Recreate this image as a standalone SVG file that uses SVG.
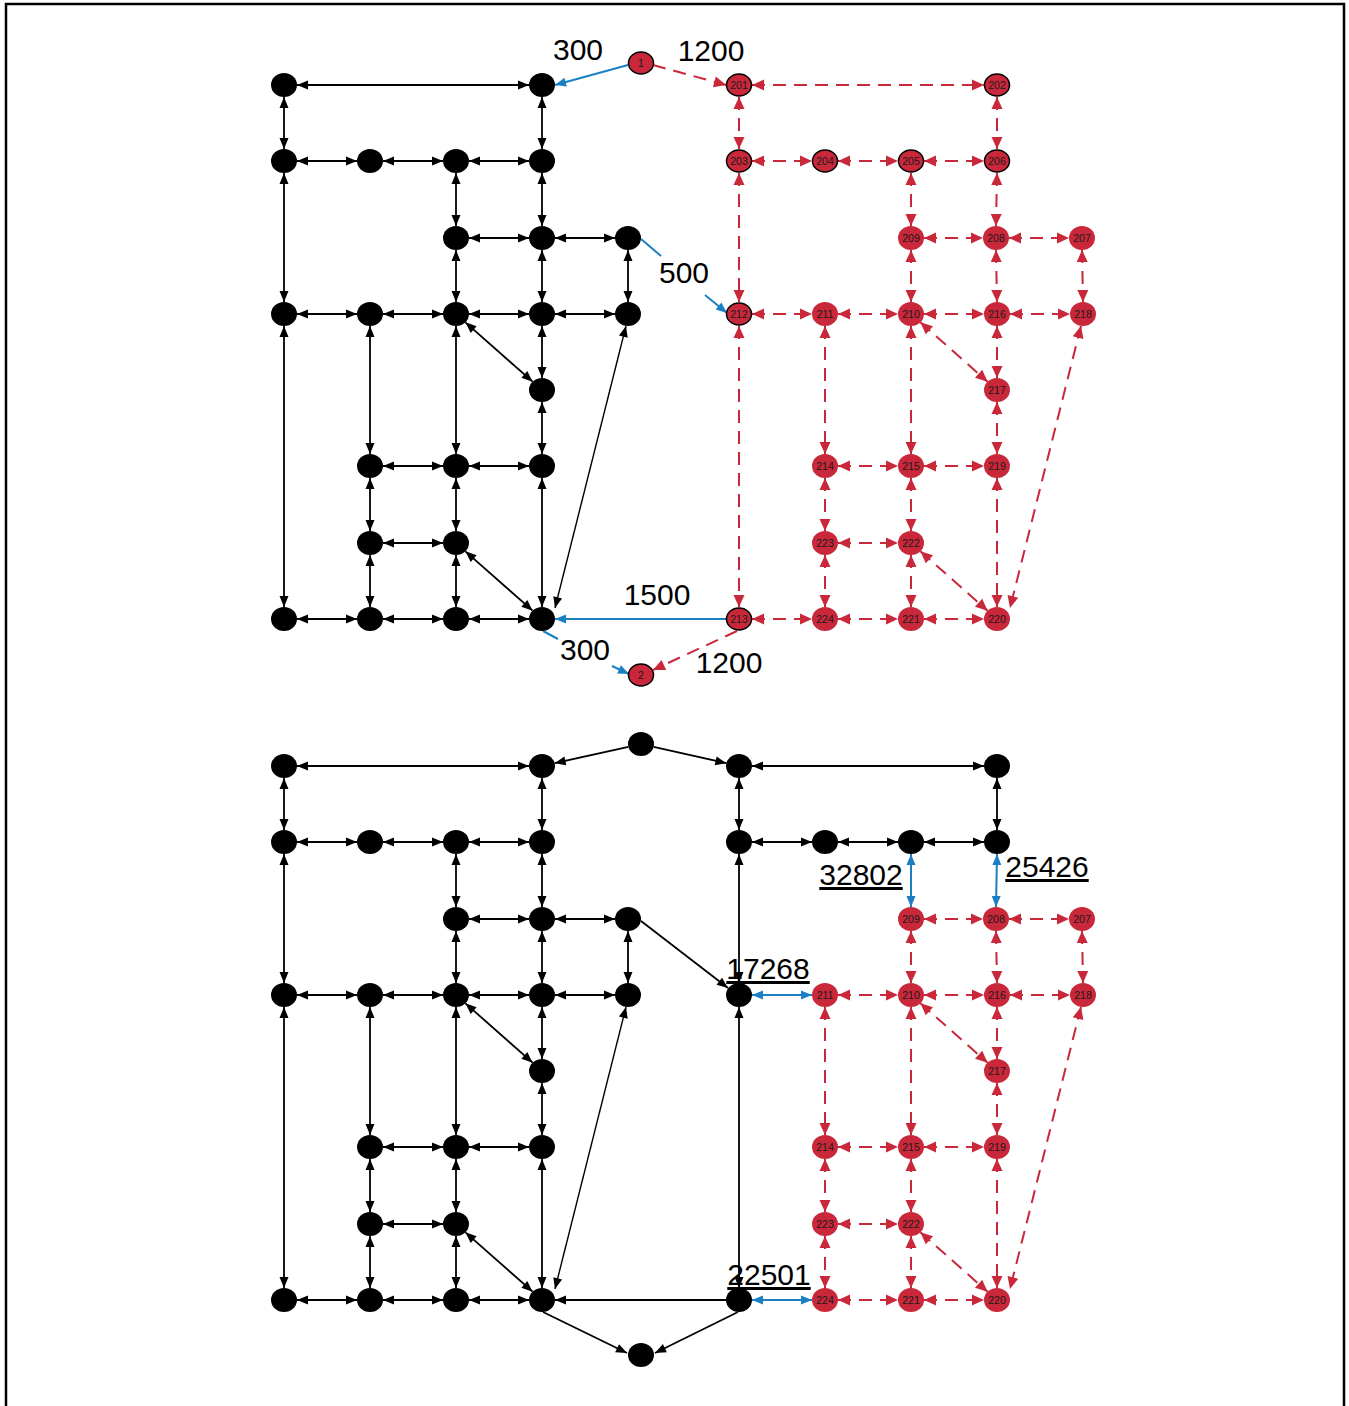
<svg xmlns="http://www.w3.org/2000/svg" width="1349" height="1406" viewBox="0 0 1349 1406">
<defs>
<style>
.k{stroke:#000;stroke-width:1.8;fill:none;marker-start:url(#mk);marker-end:url(#mk)}
.k1{stroke:#000;stroke-width:1.8;fill:none;marker-end:url(#mk)}
.kt{stroke:#000;stroke-width:1.4;fill:none;marker-start:url(#mk);marker-end:url(#mk)}
.r{stroke:#c8283a;stroke-width:2;stroke-dasharray:13 8;fill:none;marker-start:url(#mr);marker-end:url(#mr)}
.r1{stroke:#c8283a;stroke-width:2;stroke-dasharray:13 8;fill:none;marker-end:url(#mr)}
.b{stroke:#1b7fc4;stroke-width:2;fill:none;marker-start:url(#mb);marker-end:url(#mb)}
.b1{stroke:#1b7fc4;stroke-width:2;fill:none;marker-end:url(#mb)}
.nk{fill:#000}
.nr{fill:#c8283a}
.ns{fill:#c8283a;stroke:#000;stroke-width:1.5}
.nt{font-family:"Liberation Sans",Arial,sans-serif;font-size:10.5px;fill:#1a1a1a;text-anchor:middle}
.lb{font-family:"Liberation Sans",Arial,sans-serif;font-size:30px;fill:#000;text-anchor:middle}
.lu{font-family:"Liberation Sans",Arial,sans-serif;font-size:30px;fill:#000;text-anchor:middle;text-decoration:underline}
</style>
<marker id="mk" markerUnits="userSpaceOnUse" markerWidth="11" markerHeight="9" refX="11" refY="4.5" orient="auto-start-reverse" overflow="visible"><path d="M0,0 L11,4.5 L0,9 Z" fill="#000"/></marker>
<marker id="mr" markerUnits="userSpaceOnUse" markerWidth="12" markerHeight="11" refX="12" refY="5.5" orient="auto-start-reverse" overflow="visible"><path d="M0,0 L12,5.5 L0,11 Z" fill="#c8283a"/></marker>
<marker id="mb" markerUnits="userSpaceOnUse" markerWidth="11" markerHeight="9" refX="11" refY="4.5" orient="auto-start-reverse" overflow="visible"><path d="M0,0 L11,4.5 L0,9 Z" fill="#1b7fc4"/></marker>
</defs>
<rect x="0" y="0" width="1349" height="1406" fill="#fff"/>
<rect x="6" y="4" width="1338" height="1420" fill="none" stroke="#000" stroke-width="2.5"/>

<g id="connectors">
<g class="blk-top">
<line class="k" x1="297" y1="85" x2="529" y2="85"/>
<line class="k" x1="297" y1="161" x2="357" y2="161"/>
<line class="k" x1="383" y1="161" x2="443" y2="161"/>
<line class="k" x1="469" y1="161" x2="529" y2="161"/>
<line class="k" x1="469" y1="238" x2="529" y2="238"/>
<line class="k" x1="555" y1="238" x2="615" y2="238"/>
<line class="k" x1="297" y1="314" x2="357" y2="314"/>
<line class="k" x1="383" y1="314" x2="443" y2="314"/>
<line class="k" x1="469" y1="314" x2="529" y2="314"/>
<line class="k" x1="555" y1="314" x2="615" y2="314"/>
<line class="k" x1="383" y1="466" x2="443" y2="466"/>
<line class="k" x1="469" y1="466" x2="529" y2="466"/>
<line class="k" x1="383" y1="543" x2="443" y2="543"/>
<line class="k" x1="297" y1="619" x2="357" y2="619"/>
<line class="k" x1="383" y1="619" x2="443" y2="619"/>
<line class="k" x1="469" y1="619" x2="529" y2="619"/>
<line class="k" x1="284" y1="97" x2="284" y2="149"/>
<line class="k" x1="284" y1="173" x2="284" y2="302"/>
<line class="k" x1="284" y1="326" x2="284" y2="607"/>
<line class="k" x1="542" y1="97" x2="542" y2="149"/>
<line class="k" x1="542" y1="173" x2="542" y2="226"/>
<line class="k" x1="542" y1="250" x2="542" y2="302"/>
<line class="k" x1="542" y1="326" x2="542" y2="378"/>
<line class="k" x1="542" y1="402" x2="542" y2="454"/>
<line class="k" x1="542" y1="478" x2="542" y2="607"/>
<line class="k" x1="456" y1="173" x2="456" y2="226"/>
<line class="k" x1="456" y1="250" x2="456" y2="302"/>
<line class="k" x1="456" y1="326" x2="456" y2="454"/>
<line class="k" x1="456" y1="478" x2="456" y2="531"/>
<line class="k" x1="456" y1="555" x2="456" y2="607"/>
<line class="k" x1="628" y1="250" x2="628" y2="302"/>
<line class="k" x1="370" y1="326" x2="370" y2="454"/>
<line class="k" x1="370" y1="478" x2="370" y2="531"/>
<line class="k" x1="370" y1="555" x2="370" y2="607"/>
<line class="k" x1="465.4" y1="322.3" x2="532.6" y2="381.7"/>
<line class="k" x1="465.4" y1="551.3" x2="532.6" y2="610.7"/>
<line class="kt" x1="626" y1="326" x2="555" y2="608"/>
</g>
<g class="red-top">
<line class="r" x1="752" y1="85" x2="984" y2="85"/>
<line class="r" x1="752" y1="161" x2="812" y2="161"/>
<line class="r" x1="838" y1="161" x2="898" y2="161"/>
<line class="r" x1="924" y1="161" x2="984" y2="161"/>
<line class="r" x1="924" y1="238" x2="983" y2="238"/>
<line class="r" x1="1009" y1="238" x2="1069" y2="238"/>
<line class="r" x1="752" y1="314" x2="812" y2="314"/>
<line class="r" x1="838" y1="314" x2="898" y2="314"/>
<line class="r" x1="924" y1="314" x2="984" y2="314"/>
<line class="r" x1="1010" y1="314" x2="1070" y2="314"/>
<line class="r" x1="838" y1="466" x2="898" y2="466"/>
<line class="r" x1="924" y1="466" x2="984" y2="466"/>
<line class="r" x1="838" y1="543" x2="898" y2="543"/>
<line class="r" x1="752" y1="619" x2="812" y2="619"/>
<line class="r" x1="838" y1="619" x2="898" y2="619"/>
<line class="r" x1="924" y1="619" x2="984" y2="619"/>
<line class="r" x1="739" y1="97" x2="739" y2="149"/>
<line class="r" x1="739" y1="173" x2="739" y2="302"/>
<line class="r" x1="739" y1="326" x2="739" y2="607"/>
<line class="r" x1="997" y1="97" x2="997" y2="149"/>
<line class="r" x1="997" y1="173" x2="996" y2="226"/>
<line class="r" x1="996" y1="250" x2="997" y2="302"/>
<line class="r" x1="997" y1="326" x2="997" y2="378"/>
<line class="r" x1="997" y1="402" x2="997" y2="454"/>
<line class="r" x1="997" y1="478" x2="997" y2="607"/>
<line class="r" x1="911" y1="173" x2="911" y2="226"/>
<line class="r" x1="911" y1="250" x2="911" y2="302"/>
<line class="r" x1="911" y1="326" x2="911" y2="454"/>
<line class="r" x1="911" y1="478" x2="911" y2="531"/>
<line class="r" x1="911" y1="555" x2="911" y2="607"/>
<line class="r" x1="1082" y1="250" x2="1083" y2="302"/>
<line class="r" x1="825" y1="326" x2="825" y2="454"/>
<line class="r" x1="825" y1="478" x2="825" y2="531"/>
<line class="r" x1="825" y1="555" x2="825" y2="607"/>
<line class="r" x1="920.4" y1="322.3" x2="987.6" y2="381.7"/>
<line class="r" x1="920.4" y1="551.3" x2="987.6" y2="610.7"/>
<line class="r" x1="1081" y1="326" x2="1010" y2="608"/>
<line class="r1" x1="653" y1="65" x2="726" y2="85"/>
<line class="r1" x1="737" y1="631" x2="653" y2="670"/>
</g>
<g class="blue-top">
<line class="b1" x1="628" y1="65" x2="555" y2="85"/>
<path class="b1" d="M641,239 L661,256 M705,295 L727,313"/>
<line class="b1" x1="726" y1="619" x2="555" y2="619"/>
<path class="b1" d="M543,631 L558,639 M612,666 L629,674"/>
</g>
<g class="blk-bottom">
<line class="k" x1="297" y1="766" x2="529" y2="766"/>
<line class="k" x1="297" y1="842" x2="357" y2="842"/>
<line class="k" x1="383" y1="842" x2="443" y2="842"/>
<line class="k" x1="469" y1="842" x2="529" y2="842"/>
<line class="k" x1="469" y1="919" x2="529" y2="919"/>
<line class="k" x1="555" y1="919" x2="615" y2="919"/>
<line class="k" x1="297" y1="995" x2="357" y2="995"/>
<line class="k" x1="383" y1="995" x2="443" y2="995"/>
<line class="k" x1="469" y1="995" x2="529" y2="995"/>
<line class="k" x1="555" y1="995" x2="615" y2="995"/>
<line class="k" x1="383" y1="1147" x2="443" y2="1147"/>
<line class="k" x1="469" y1="1147" x2="529" y2="1147"/>
<line class="k" x1="383" y1="1224" x2="443" y2="1224"/>
<line class="k" x1="297" y1="1300" x2="357" y2="1300"/>
<line class="k" x1="383" y1="1300" x2="443" y2="1300"/>
<line class="k" x1="469" y1="1300" x2="529" y2="1300"/>
<line class="k" x1="284" y1="778" x2="284" y2="830"/>
<line class="k" x1="284" y1="854" x2="284" y2="983"/>
<line class="k" x1="284" y1="1007" x2="284" y2="1288"/>
<line class="k" x1="542" y1="778" x2="542" y2="830"/>
<line class="k" x1="542" y1="854" x2="542" y2="907"/>
<line class="k" x1="542" y1="931" x2="542" y2="983"/>
<line class="k" x1="542" y1="1007" x2="542" y2="1059"/>
<line class="k" x1="542" y1="1083" x2="542" y2="1135"/>
<line class="k" x1="542" y1="1159" x2="542" y2="1288"/>
<line class="k" x1="456" y1="854" x2="456" y2="907"/>
<line class="k" x1="456" y1="931" x2="456" y2="983"/>
<line class="k" x1="456" y1="1007" x2="456" y2="1135"/>
<line class="k" x1="456" y1="1159" x2="456" y2="1212"/>
<line class="k" x1="456" y1="1236" x2="456" y2="1288"/>
<line class="k" x1="628" y1="931" x2="628" y2="983"/>
<line class="k" x1="370" y1="1007" x2="370" y2="1135"/>
<line class="k" x1="370" y1="1159" x2="370" y2="1212"/>
<line class="k" x1="370" y1="1236" x2="370" y2="1288"/>
<line class="k" x1="465.4" y1="1003.3" x2="532.6" y2="1062.7"/>
<line class="k" x1="465.4" y1="1232.3" x2="532.6" y2="1291.7"/>
<line class="kt" x1="626" y1="1007" x2="555" y2="1289"/>
<line class="k" x1="752" y1="766" x2="984" y2="766"/>
<line class="k" x1="739" y1="778" x2="739" y2="830"/>
<line class="k" x1="997" y1="778" x2="997" y2="830"/>
<line class="k" x1="752" y1="842" x2="812" y2="842"/>
<line class="k" x1="838" y1="842" x2="898" y2="842"/>
<line class="k" x1="924" y1="842" x2="984" y2="842"/>
<line class="k" x1="739" y1="854" x2="739" y2="983"/>
<line class="k" x1="739" y1="1007" x2="739" y2="1288"/>
<line class="k1" x1="628.4" y1="746.8" x2="554.6" y2="763.2"/>
<line class="k1" x1="653.6" y1="746.8" x2="726.4" y2="763.2"/>
<line class="k1" x1="641" y1="921" x2="728" y2="988"/>
<line class="k1" x1="726" y1="1300" x2="555" y2="1300"/>
<line class="k1" x1="543" y1="1312" x2="627" y2="1353"/>
<line class="k1" x1="738" y1="1312" x2="655" y2="1353"/>
</g>
<g class="red-bottom">
<line class="r" x1="924" y1="919" x2="983" y2="919"/>
<line class="r" x1="1009" y1="919" x2="1069" y2="919"/>
<line class="r" x1="838" y1="995" x2="898" y2="995"/>
<line class="r" x1="924" y1="995" x2="984" y2="995"/>
<line class="r" x1="1010" y1="995" x2="1070" y2="995"/>
<line class="r" x1="838" y1="1147" x2="898" y2="1147"/>
<line class="r" x1="924" y1="1147" x2="984" y2="1147"/>
<line class="r" x1="838" y1="1224" x2="898" y2="1224"/>
<line class="r" x1="838" y1="1300" x2="898" y2="1300"/>
<line class="r" x1="924" y1="1300" x2="984" y2="1300"/>
<line class="r" x1="911" y1="931" x2="911" y2="983"/>
<line class="r" x1="911" y1="1007" x2="911" y2="1135"/>
<line class="r" x1="911" y1="1159" x2="911" y2="1212"/>
<line class="r" x1="911" y1="1236" x2="911" y2="1288"/>
<line class="r" x1="996" y1="931" x2="997" y2="983"/>
<line class="r" x1="1082" y1="931" x2="1083" y2="983"/>
<line class="r" x1="997" y1="1007" x2="997" y2="1059"/>
<line class="r" x1="997" y1="1083" x2="997" y2="1135"/>
<line class="r" x1="997" y1="1159" x2="997" y2="1288"/>
<line class="r" x1="825" y1="1007" x2="825" y2="1135"/>
<line class="r" x1="825" y1="1159" x2="825" y2="1212"/>
<line class="r" x1="825" y1="1236" x2="825" y2="1288"/>
<line class="r" x1="920.4" y1="1003.3" x2="987.6" y2="1062.7"/>
<line class="r" x1="920.4" y1="1232.3" x2="987.6" y2="1291.7"/>
<line class="r" x1="1081" y1="1007" x2="1010" y2="1289"/>
</g>
<g class="blue-bottom">
<line class="b" x1="752" y1="995" x2="812" y2="995"/>
<line class="b" x1="911" y1="854" x2="911" y2="907"/>
<line class="b" x1="997" y1="854" x2="996" y2="907"/>
<line class="b" x1="752" y1="1300" x2="812" y2="1300"/>
</g>
</g>

<g id="edge-labels">
<text class="lb" x="578" y="60">300</text>
<text class="lb" x="711" y="61">1200</text>
<text class="lb" x="684" y="283">500</text>
<text class="lb" x="657" y="605">1500</text>
<text class="lb" x="585" y="660">300</text>
<text class="lb" x="729" y="673">1200</text>
<text class="lu" x="768" y="979">17268</text>
<text class="lu" x="861" y="885">32802</text>
<text class="lu" x="1047" y="877">25426</text>
<text class="lu" x="769" y="1285">22501</text>
</g>

<g id="t_a1"><ellipse class="nk" cx="284" cy="85" rx="13" ry="12"/></g>
<g id="t_a4"><ellipse class="nk" cx="542" cy="85" rx="13" ry="12"/></g>
<g id="t_b1"><ellipse class="nk" cx="284" cy="161" rx="13" ry="12"/></g>
<g id="t_b2"><ellipse class="nk" cx="370" cy="161" rx="13" ry="12"/></g>
<g id="t_b3"><ellipse class="nk" cx="456" cy="161" rx="13" ry="12"/></g>
<g id="t_b4"><ellipse class="nk" cx="542" cy="161" rx="13" ry="12"/></g>
<g id="t_c3"><ellipse class="nk" cx="456" cy="238" rx="13" ry="12"/></g>
<g id="t_c4"><ellipse class="nk" cx="542" cy="238" rx="13" ry="12"/></g>
<g id="t_c5"><ellipse class="nk" cx="628" cy="238" rx="13" ry="12"/></g>
<g id="t_d1"><ellipse class="nk" cx="284" cy="314" rx="13" ry="12"/></g>
<g id="t_d2"><ellipse class="nk" cx="370" cy="314" rx="13" ry="12"/></g>
<g id="t_d3"><ellipse class="nk" cx="456" cy="314" rx="13" ry="12"/></g>
<g id="t_d4"><ellipse class="nk" cx="542" cy="314" rx="13" ry="12"/></g>
<g id="t_d5"><ellipse class="nk" cx="628" cy="314" rx="13" ry="12"/></g>
<g id="t_e4"><ellipse class="nk" cx="542" cy="390" rx="13" ry="12"/></g>
<g id="t_f2"><ellipse class="nk" cx="370" cy="466" rx="13" ry="12"/></g>
<g id="t_f3"><ellipse class="nk" cx="456" cy="466" rx="13" ry="12"/></g>
<g id="t_f4"><ellipse class="nk" cx="542" cy="466" rx="13" ry="12"/></g>
<g id="t_g2"><ellipse class="nk" cx="370" cy="543" rx="13" ry="12"/></g>
<g id="t_g3"><ellipse class="nk" cx="456" cy="543" rx="13" ry="12"/></g>
<g id="t_h1"><ellipse class="nk" cx="284" cy="619" rx="13" ry="12"/></g>
<g id="t_h2"><ellipse class="nk" cx="370" cy="619" rx="13" ry="12"/></g>
<g id="t_h3"><ellipse class="nk" cx="456" cy="619" rx="13" ry="12"/></g>
<g id="t_h4"><ellipse class="nk" cx="542" cy="619" rx="13" ry="12"/></g>

<g id="t_1"><ellipse class="ns" cx="641" cy="63" rx="12.5" ry="11"/><text class="nt" x="641" y="66.5">1</text></g>
<g id="t_2"><ellipse class="ns" cx="641" cy="675" rx="12.5" ry="11"/><text class="nt" x="641" y="678.5">2</text></g>
<g id="t_201"><ellipse class="ns" cx="739" cy="85" rx="12.5" ry="11"/><text class="nt" x="739" y="88.5">201</text></g>
<g id="t_202"><ellipse class="ns" cx="997" cy="85" rx="12.5" ry="11"/><text class="nt" x="997" y="88.5">202</text></g>
<g id="t_203"><ellipse class="ns" cx="739" cy="161" rx="12.5" ry="11"/><text class="nt" x="739" y="164.5">203</text></g>
<g id="t_204"><ellipse class="ns" cx="825" cy="161" rx="12.5" ry="11"/><text class="nt" x="825" y="164.5">204</text></g>
<g id="t_205"><ellipse class="ns" cx="911" cy="161" rx="12.5" ry="11"/><text class="nt" x="911" y="164.5">205</text></g>
<g id="t_206"><ellipse class="ns" cx="997" cy="161" rx="12.5" ry="11"/><text class="nt" x="997" y="164.5">206</text></g>
<g id="t_209"><ellipse class="nr" cx="911" cy="238" rx="13" ry="12"/><text class="nt" x="911" y="241.5">209</text></g>
<g id="t_208"><ellipse class="nr" cx="996" cy="238" rx="13" ry="12"/><text class="nt" x="996" y="241.5">208</text></g>
<g id="t_207"><ellipse class="nr" cx="1082" cy="238" rx="13" ry="12"/><text class="nt" x="1082" y="241.5">207</text></g>
<g id="t_212"><ellipse class="ns" cx="739" cy="314" rx="12.5" ry="11"/><text class="nt" x="739" y="317.5">212</text></g>
<g id="t_211"><ellipse class="nr" cx="825" cy="314" rx="13" ry="12"/><text class="nt" x="825" y="317.5">211</text></g>
<g id="t_210"><ellipse class="nr" cx="911" cy="314" rx="13" ry="12"/><text class="nt" x="911" y="317.5">210</text></g>
<g id="t_216"><ellipse class="nr" cx="997" cy="314" rx="13" ry="12"/><text class="nt" x="997" y="317.5">216</text></g>
<g id="t_218"><ellipse class="nr" cx="1083" cy="314" rx="13" ry="12"/><text class="nt" x="1083" y="317.5">218</text></g>
<g id="t_217"><ellipse class="nr" cx="997" cy="390" rx="13" ry="12"/><text class="nt" x="997" y="393.5">217</text></g>
<g id="t_214"><ellipse class="nr" cx="825" cy="466" rx="13" ry="12"/><text class="nt" x="825" y="469.5">214</text></g>
<g id="t_215"><ellipse class="nr" cx="911" cy="466" rx="13" ry="12"/><text class="nt" x="911" y="469.5">215</text></g>
<g id="t_219"><ellipse class="nr" cx="997" cy="466" rx="13" ry="12"/><text class="nt" x="997" y="469.5">219</text></g>
<g id="t_223"><ellipse class="nr" cx="825" cy="543" rx="13" ry="12"/><text class="nt" x="825" y="546.5">223</text></g>
<g id="t_222"><ellipse class="nr" cx="911" cy="543" rx="13" ry="12"/><text class="nt" x="911" y="546.5">222</text></g>
<g id="t_213"><ellipse class="ns" cx="739" cy="619" rx="12.5" ry="11"/><text class="nt" x="739" y="622.5">213</text></g>
<g id="t_224"><ellipse class="nr" cx="825" cy="619" rx="13" ry="12"/><text class="nt" x="825" y="622.5">224</text></g>
<g id="t_221"><ellipse class="nr" cx="911" cy="619" rx="13" ry="12"/><text class="nt" x="911" y="622.5">221</text></g>
<g id="t_220"><ellipse class="nr" cx="997" cy="619" rx="13" ry="12"/><text class="nt" x="997" y="622.5">220</text></g>

<g id="b_top"><ellipse class="nk" cx="641" cy="744" rx="13" ry="12"/></g>
<g id="b_bot"><ellipse class="nk" cx="641" cy="1355" rx="13" ry="12"/></g>
<g id="b_a1"><ellipse class="nk" cx="284" cy="766" rx="13" ry="12"/></g>
<g id="b_a4"><ellipse class="nk" cx="542" cy="766" rx="13" ry="12"/></g>
<g id="b_b1"><ellipse class="nk" cx="284" cy="842" rx="13" ry="12"/></g>
<g id="b_b2"><ellipse class="nk" cx="370" cy="842" rx="13" ry="12"/></g>
<g id="b_b3"><ellipse class="nk" cx="456" cy="842" rx="13" ry="12"/></g>
<g id="b_b4"><ellipse class="nk" cx="542" cy="842" rx="13" ry="12"/></g>
<g id="b_c3"><ellipse class="nk" cx="456" cy="919" rx="13" ry="12"/></g>
<g id="b_c4"><ellipse class="nk" cx="542" cy="919" rx="13" ry="12"/></g>
<g id="b_c5"><ellipse class="nk" cx="628" cy="919" rx="13" ry="12"/></g>
<g id="b_d1"><ellipse class="nk" cx="284" cy="995" rx="13" ry="12"/></g>
<g id="b_d2"><ellipse class="nk" cx="370" cy="995" rx="13" ry="12"/></g>
<g id="b_d3"><ellipse class="nk" cx="456" cy="995" rx="13" ry="12"/></g>
<g id="b_d4"><ellipse class="nk" cx="542" cy="995" rx="13" ry="12"/></g>
<g id="b_d5"><ellipse class="nk" cx="628" cy="995" rx="13" ry="12"/></g>
<g id="b_e4"><ellipse class="nk" cx="542" cy="1071" rx="13" ry="12"/></g>
<g id="b_f2"><ellipse class="nk" cx="370" cy="1147" rx="13" ry="12"/></g>
<g id="b_f3"><ellipse class="nk" cx="456" cy="1147" rx="13" ry="12"/></g>
<g id="b_f4"><ellipse class="nk" cx="542" cy="1147" rx="13" ry="12"/></g>
<g id="b_g2"><ellipse class="nk" cx="370" cy="1224" rx="13" ry="12"/></g>
<g id="b_g3"><ellipse class="nk" cx="456" cy="1224" rx="13" ry="12"/></g>
<g id="b_h1"><ellipse class="nk" cx="284" cy="1300" rx="13" ry="12"/></g>
<g id="b_h2"><ellipse class="nk" cx="370" cy="1300" rx="13" ry="12"/></g>
<g id="b_h3"><ellipse class="nk" cx="456" cy="1300" rx="13" ry="12"/></g>
<g id="b_h4"><ellipse class="nk" cx="542" cy="1300" rx="13" ry="12"/></g>
<g id="b_r1"><ellipse class="nk" cx="739" cy="766" rx="13" ry="12"/></g>
<g id="b_r2"><ellipse class="nk" cx="997" cy="766" rx="13" ry="12"/></g>
<g id="b_s1"><ellipse class="nk" cx="739" cy="842" rx="13" ry="12"/></g>
<g id="b_s2"><ellipse class="nk" cx="825" cy="842" rx="13" ry="12"/></g>
<g id="b_s3"><ellipse class="nk" cx="911" cy="842" rx="13" ry="12"/></g>
<g id="b_s4"><ellipse class="nk" cx="997" cy="842" rx="13" ry="12"/></g>
<g id="b_u1"><ellipse class="nk" cx="739" cy="995" rx="13" ry="12"/></g>
<g id="b_v1"><ellipse class="nk" cx="739" cy="1300" rx="13" ry="12"/></g>

<g id="b_209"><ellipse class="nr" cx="911" cy="919" rx="13" ry="12"/><text class="nt" x="911" y="922.5">209</text></g>
<g id="b_208"><ellipse class="nr" cx="996" cy="919" rx="13" ry="12"/><text class="nt" x="996" y="922.5">208</text></g>
<g id="b_207"><ellipse class="nr" cx="1082" cy="919" rx="13" ry="12"/><text class="nt" x="1082" y="922.5">207</text></g>
<g id="b_211"><ellipse class="nr" cx="825" cy="995" rx="13" ry="12"/><text class="nt" x="825" y="998.5">211</text></g>
<g id="b_210"><ellipse class="nr" cx="911" cy="995" rx="13" ry="12"/><text class="nt" x="911" y="998.5">210</text></g>
<g id="b_216"><ellipse class="nr" cx="997" cy="995" rx="13" ry="12"/><text class="nt" x="997" y="998.5">216</text></g>
<g id="b_218"><ellipse class="nr" cx="1083" cy="995" rx="13" ry="12"/><text class="nt" x="1083" y="998.5">218</text></g>
<g id="b_217"><ellipse class="nr" cx="997" cy="1071" rx="13" ry="12"/><text class="nt" x="997" y="1074.5">217</text></g>
<g id="b_214"><ellipse class="nr" cx="825" cy="1147" rx="13" ry="12"/><text class="nt" x="825" y="1150.5">214</text></g>
<g id="b_215"><ellipse class="nr" cx="911" cy="1147" rx="13" ry="12"/><text class="nt" x="911" y="1150.5">215</text></g>
<g id="b_219"><ellipse class="nr" cx="997" cy="1147" rx="13" ry="12"/><text class="nt" x="997" y="1150.5">219</text></g>
<g id="b_223"><ellipse class="nr" cx="825" cy="1224" rx="13" ry="12"/><text class="nt" x="825" y="1227.5">223</text></g>
<g id="b_222"><ellipse class="nr" cx="911" cy="1224" rx="13" ry="12"/><text class="nt" x="911" y="1227.5">222</text></g>
<g id="b_224"><ellipse class="nr" cx="825" cy="1300" rx="13" ry="12"/><text class="nt" x="825" y="1303.5">224</text></g>
<g id="b_221"><ellipse class="nr" cx="911" cy="1300" rx="13" ry="12"/><text class="nt" x="911" y="1303.5">221</text></g>
<g id="b_220"><ellipse class="nr" cx="997" cy="1300" rx="13" ry="12"/><text class="nt" x="997" y="1303.5">220</text></g>
</svg>
